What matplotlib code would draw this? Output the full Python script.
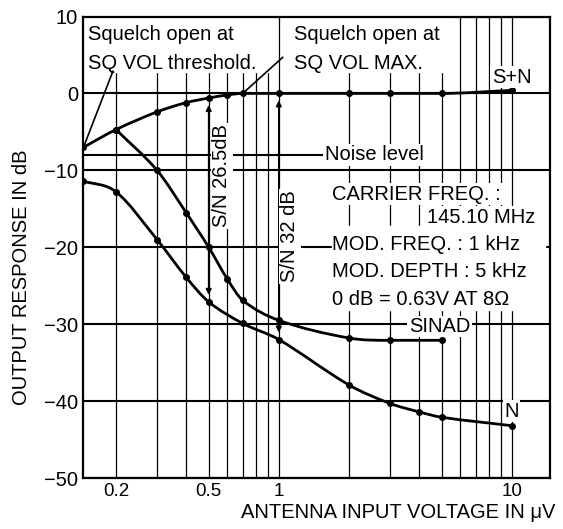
import numpy as np
import matplotlib
matplotlib.use('Agg')
import matplotlib.pyplot as plt
from matplotlib.path import Path
from matplotlib.patches import PathPatch
from matplotlib.ticker import NullFormatter

plt.rcParams['font.family'] = ['Liberation Sans', 'DejaVu Sans']
FS = 14.5

# Receiver audio output vs. antenna input (uV -> dB)
sn_x = [0.145, 0.2, 0.3, 0.4, 0.5, 0.6, 0.7, 1, 2, 3, 5, 10]
sn_db = [-7.0, -4.7, -2.4, -1.2, -0.6, -0.2, 0.0, 0.0, 0.0, 0.0, 0.0, 0.4]

sinad_x = [0.2, 0.3, 0.4, 0.5, 0.6, 0.7, 1, 2, 3, 5]
sinad_db = [-4.7, -10.0, -15.5, -20.0, -24.1, -26.9, -29.5, -31.8, -32.1, -32.1]

n_x = [0.145, 0.2, 0.3, 0.4, 0.5, 0.7, 1, 2, 3, 4, 5, 10]
n_db = [-11.4, -12.8, -19.0, -23.9, -27.1, -29.9, -32.0, -37.9, -40.3, -41.4, -42.1, -43.2]

noise_level = -8.0

x_ticks = [0.2, 0.5, 1, 10]
x_ticklabels = ['0.2', '0.5', '1', '10']
x_minor = [0.3, 0.4, 0.6, 0.7, 0.8, 0.9, 2, 3, 4, 5, 6, 7, 8, 9]
y_ticks = [-50, -40, -30, -20, -10, 0, 10]

x_lo, x_hi = 0.145, 14.6


def smooth_path(xs, ys):
    # cubic Hermite segments in log-x space, flat tangent at turning points
    u = np.log10(xs)
    y = np.asarray(ys, float)
    d = np.diff(y) / np.diff(u)
    m = np.empty_like(y)
    m[0], m[-1] = d[0], d[-1]
    for i in range(1, len(y) - 1):
        if d[i - 1] * d[i] <= 0:
            m[i] = 0.0
        else:
            m[i] = (y[i + 1] - y[i - 1]) / (u[i + 1] - u[i - 1])
    verts = [(xs[0], y[0])]
    codes = [Path.MOVETO]
    for i in range(len(y) - 1):
        h = u[i + 1] - u[i]
        verts += [(10 ** (u[i] + h / 3), y[i] + m[i] * h / 3),
                  (10 ** (u[i + 1] - h / 3), y[i + 1] - m[i + 1] * h / 3),
                  (xs[i + 1], y[i + 1])]
        codes += [Path.CURVE4] * 3
    return Path(verts, codes)


fig = plt.figure(figsize=(5.63, 5.29), dpi=100)
ax = fig.add_axes([0.1483, 0.0964, 0.8286, 0.8724])
ax.set_xscale('log')
ax.set_axisbelow(True)

for xs, ys in [(sn_x, sn_db), (sinad_x, sinad_db), (n_x, n_db)]:
    ax.add_patch(PathPatch(smooth_path(xs, ys), fill=False, lw=2.0,
                           ec='black', zorder=3))
    ax.plot(xs, ys, 'o', ms=4, color='black', zorder=4)

ax.set_xlim(x_lo, x_hi)
ax.set_ylim(-50, 10)
ax.set_xticks(x_ticks)
ax.set_xticklabels(x_ticklabels)
ax.set_xticks(x_minor, minor=True)
ax.xaxis.set_minor_formatter(NullFormatter())
ax.set_yticks(y_ticks)
ax.tick_params(axis='both', which='both', length=0)
ax.tick_params(axis='y', pad=4, labelsize=FS)
ax.tick_params(axis='x', pad=3.5, labelsize=13.5)
ax.grid(True, axis='x', which='both', color='black', lw=0.9)
ax.grid(True, axis='y', which='major', color='black', lw=1.5)
for s in ax.spines.values():
    s.set_linewidth(1.6)

# white panels behind the notes
ax.fill_between([x_lo, 0.97], 2.8, 10, color='white', zorder=1)
ax.fill_between([1.03, 5.4], 2.8, 10, color='white', zorder=1)
ax.fill_between([1.69, 13.9], -28.1, -17.3, color='white', zorder=1)

box = dict(fc='white', ec='none', pad=1)

ax.text(0.151, 7.7, 'Squelch open at', fontsize=FS, va='center', zorder=5)
ax.text(0.151, 3.95, 'SQ VOL threshold.', fontsize=FS, va='center', zorder=5)
ax.annotate('', xy=(sn_x[0], sn_db[0]), xytext=(0.194, 2.9),
            arrowprops=dict(arrowstyle='-', lw=1.2, color='black',
                            shrinkA=0, shrinkB=0), zorder=5)

ax.text(1.16, 7.7, 'Squelch open at', fontsize=FS, va='center', zorder=5)
ax.text(1.16, 3.95, 'SQ VOL MAX.', fontsize=FS, va='center', zorder=5)
ax.annotate('', xy=(sn_x[6], sn_db[6]), xytext=(1.04, 4.7),
            arrowprops=dict(arrowstyle='-', lw=1.2, color='black',
                            shrinkA=0, shrinkB=0), zorder=5)

ax.text(10, 2.1, 'S+N', fontsize=FS, ha='center', va='center', bbox=box, zorder=5)
ax.text(10, -41.3, 'N', fontsize=FS, ha='center', va='center', bbox=box, zorder=5)

ax.plot([x_lo, 1.55], [noise_level, noise_level], color='black', lw=1.5, zorder=2)
ax.text(1.575, noise_level, 'Noise level', fontsize=FS, va='center',
        bbox=box, zorder=5)

ax.text(1.70, -13.1, 'CARRIER FREQ. :', fontsize=FS, va='center', bbox=box, zorder=5)
ax.text(4.32, -16.1, '145.10 MHz', fontsize=FS, va='center', bbox=box, zorder=5)
ax.text(1.70, -19.7, 'MOD. FREQ. : 1 kHz', fontsize=FS, va='center', zorder=5)
ax.text(1.70, -23.2, 'MOD. DEPTH : 5 kHz', fontsize=FS, va='center', zorder=5)
ax.text(1.70, -26.8, '0 dB = 0.63V AT 8Ω', fontsize=FS, va='center', zorder=5)
ax.text(4.9, -30.3, 'SINAD', fontsize=FS, ha='center', va='center', bbox=box, zorder=5)

# signal-to-noise spans
i5 = sn_x.index(0.5)
j5 = n_x.index(0.5)
ax.annotate('', xy=(0.5, sn_db[i5]), xytext=(0.5, n_db[j5]),
            arrowprops=dict(arrowstyle='<|-|>', lw=1.2, color='black',
                            mutation_scale=8, shrinkA=5, shrinkB=5), zorder=5)
ax.text(0.569, -10.7, 'S/N 26.5dB', fontsize=FS, rotation=90,
        ha='center', va='center', bbox=box, zorder=5)

i1 = sn_x.index(1)
j1 = n_x.index(1)
ax.annotate('', xy=(1, sn_db[i1]), xytext=(1, n_db[j1]),
            arrowprops=dict(arrowstyle='<|-|>', lw=1.2, color='black',
                            mutation_scale=8, shrinkA=5, shrinkB=5), zorder=5)
ax.text(1.115, -18.6, 'S/N 32 dB', fontsize=FS, rotation=90,
        ha='center', va='center', bbox=box, zorder=5)

fig.text(555 / 563, (529 - 513) / 529, 'ANTENNA INPUT VOLTAGE IN μV',
         fontsize=FS, ha='right', va='center')
fig.text(22 / 563, (529 - 277) / 529, 'OUTPUT RESPONSE IN dB',
         fontsize=FS, rotation=90, ha='center', va='center')

fig.savefig('out.png', dpi=100)
